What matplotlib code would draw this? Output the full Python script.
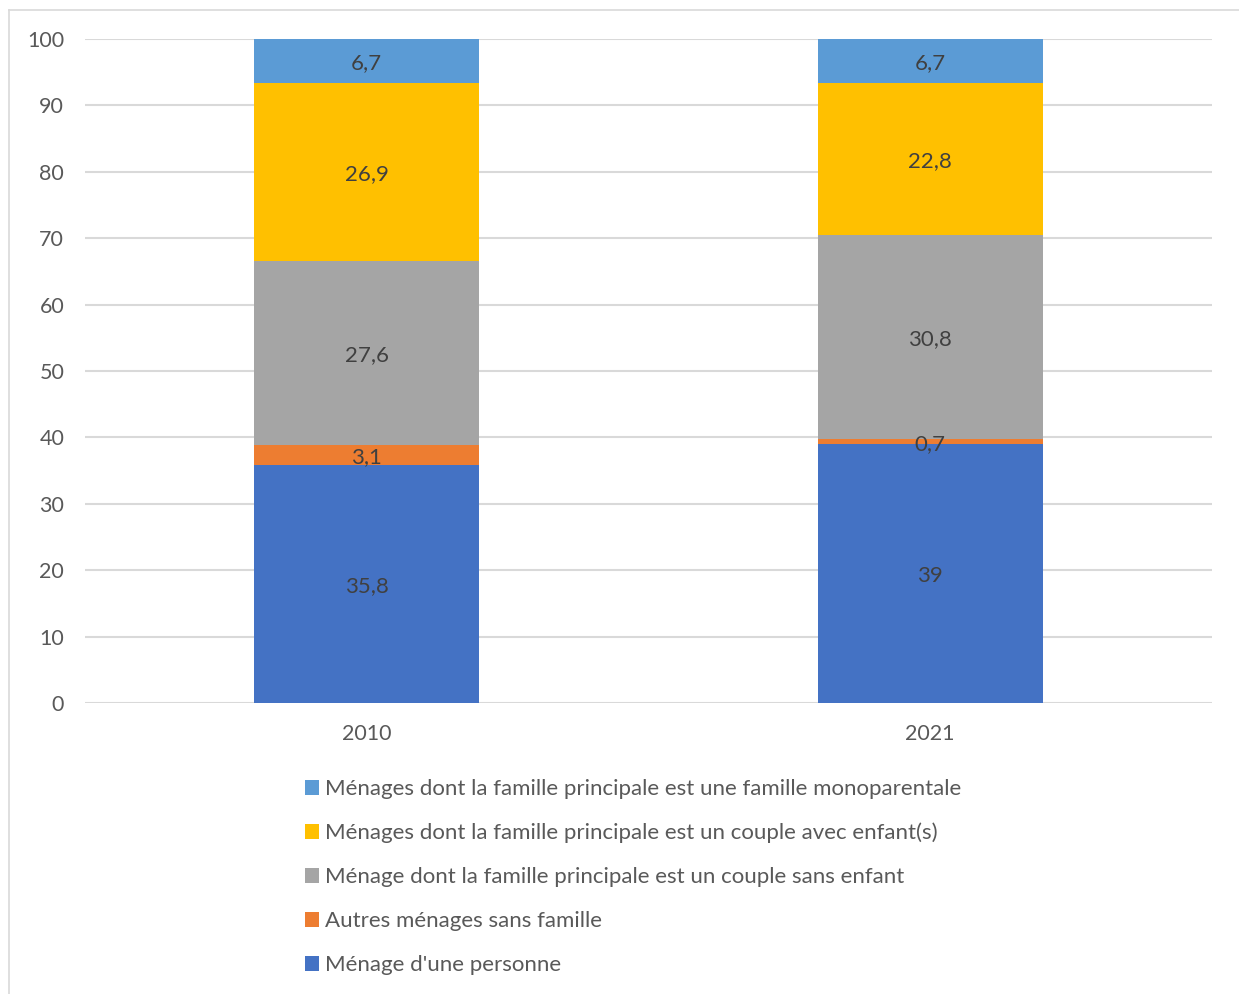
import matplotlib
matplotlib.use("Agg")
import matplotlib.pyplot as plt
from matplotlib.patches import Patch
from matplotlib.lines import Line2D

plt.rcParams['font.family'] = ['Lato', 'DejaVu Sans']

years = ["2010", "2021"]
series_names = [
    "Ménage d'une personne",
    "Autres ménages sans famille",
    "Ménage dont la famille principale est un couple sans enfant",
    "Ménages dont la famille principale est un couple avec enfant(s)",
    "Ménages dont la famille principale est une famille monoparentale",
]
values = [
    [35.8, 39.0],
    [3.1, 0.7],
    [27.6, 30.8],
    [26.9, 22.8],
    [6.7, 6.7],
]
labels = [
    ["35,8", "39"],
    ["3,1", "0,7"],
    ["27,6", "30,8"],
    ["26,9", "22,8"],
    ["6,7", "6,7"],
]
colors = ["#4472C4", "#ED7D31", "#A5A5A5", "#FFC000", "#5B9BD5"]
yticks = [0, 10, 20, 30, 40, 50, 60, 70, 80, 90, 100]

W, H = 1239, 994
fig = plt.figure(figsize=(W / 100, H / 100), dpi=100)
ax = fig.add_axes([85 / W, 1 - 703 / H, (1212 - 85) / W, (703 - 39) / H])

x = list(range(len(years)))
bottoms = [0.0] * len(years)
for vals, labs, col in zip(values, labels, colors):
    ax.bar(x, vals, bottom=bottoms, width=0.4, color=col, zorder=3)
    for i, (v, lab) in enumerate(zip(vals, labs)):
        top = min(bottoms[i] + v, 100)
        yc = (bottoms[i] + top) / 2
        ax.text(x[i], yc, lab, ha='center', va='center_baseline', fontsize=16,
                color='#404040', zorder=4)
    bottoms = [b + v for b, v in zip(bottoms, vals)]

ax.set_xlim(-0.5, 1.5)
ax.set_ylim(0, 100)
ax.set_yticks(yticks)
ax.set_yticklabels([str(t) for t in yticks])
ax.set_xticks(x)
ax.set_xticklabels(years)
ax.tick_params(axis='both', length=0, labelsize=15.5, labelcolor='#595959')
ax.tick_params(axis='y', pad=15)
ax.tick_params(axis='x', pad=15)
for s in ax.spines.values():
    s.set_visible(False)
ax.yaxis.grid(True, color='#d9d9d9', linewidth=1.5, zorder=0)
ax.set_axisbelow(True)

handles = [Patch(facecolor=c, edgecolor='none') for c in colors][::-1]
fig.legend(handles, series_names[::-1], loc='upper left',
           bbox_to_anchor=(296 / W, 1 - 770 / H), frameon=False,
           fontsize=16, labelcolor='#595959', handlelength=0.65,
           handleheight=0.65, handletextpad=0.25, labelspacing=1.08,
           borderaxespad=0)

# outer chart border (top and left visible)
fig.add_artist(Line2D([9 / W, 1], [1 - 10 / H, 1 - 10 / H], color='#d9d9d9', linewidth=1.2))
fig.add_artist(Line2D([9 / W, 9 / W], [0, 1 - 10 / H], color='#d9d9d9', linewidth=1.2))

fig.savefig("out.png", dpi=100)
